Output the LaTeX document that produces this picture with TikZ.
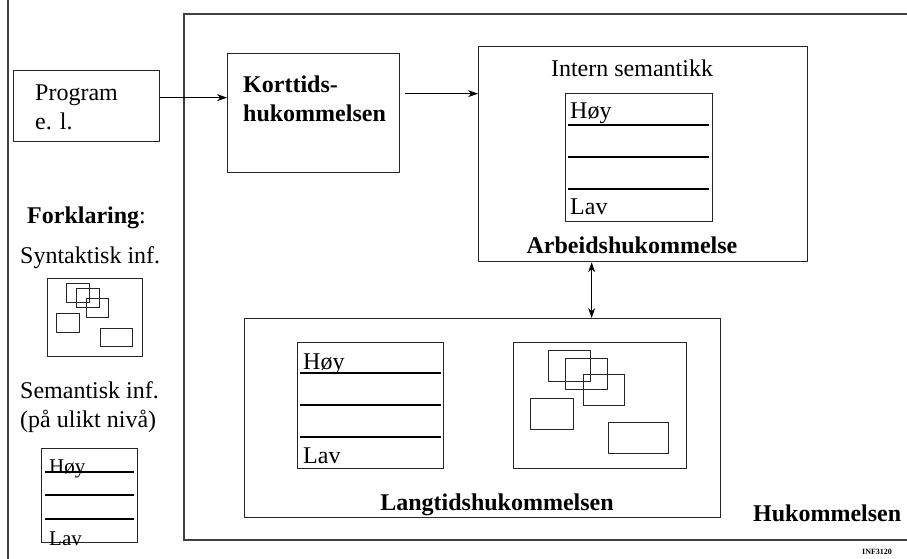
\documentclass[tikz,border=0pt]{standalone}
\usepackage{fontspec}
\setmainfont{Liberation Serif}
\usetikzlibrary{arrows.meta}

\tikzset{
	boks/.style={draw=black!85, line width=1.3pt, inner sep=0pt, anchor=north west},
	smaboks/.style={draw=black!85, line width=1pt},
	tekst/.style={anchor=base west, inner sep=0pt, font=\fontsize{24}{28}\selectfont},
	midttekst/.style={anchor=base, inner sep=0pt, font=\fontsize{24}{28}\selectfont\bfseries},
	pil/.style={line width=1pt, -{Stealth[length=10pt,width=7pt]}},
	dobbelpil/.style={line width=1pt, {Stealth[length=10pt,width=7pt]}-{Stealth[length=10pt,width=7pt]}},
	ramme/.style={draw=black!75, line width=1.8pt}
}

\begin{document}
\begin{tikzpicture}[x=1pt, y=-1pt]
	\useasboundingbox (0,0) rectangle (907,559);
	
	% ytre ramme
	\draw[ramme] (8,0) -- (8,559);
	\draw[ramme] (907,14) -- (184,14) -- (184,540) -- (907,540);
	
	% bokser
	\node[boks, minimum width=146pt, minimum height=71pt] (prog) at (13,70) {};
	\node[boks, minimum width=172pt, minimum height=119pt] (kort) at (227,53) {};
	\node[boks, minimum width=329pt, minimum height=215pt] (arbeid) at (478,46) {};
	\node[boks, minimum width=147pt, minimum height=128pt] (arbniv) at (565,93) {};
	\node[boks, minimum width=476pt, minimum height=199pt] (langtid) at (244,318) {};
	\node[boks, minimum width=146pt, minimum height=126pt] (langniv) at (297,342) {};
	\node[boks, minimum width=173pt, minimum height=126pt] (langsyn) at (513,342) {};
	\node[boks, minimum width=95pt, minimum height=78pt] (legsyn) at (47,278) {};
	\node[boks, minimum width=96pt, minimum height=94pt] (legniv) at (41,448) {};
	
	% nivaalinjer
	\foreach \y in {125,157,189}
		\draw[line width=1.2pt] (568,\y) -- (709,\y);
	\foreach \y in {373,405,437}
		\draw[line width=1.2pt] (300,\y) -- (441,\y);
	\foreach \y in {472,495,519}
		\draw[line width=1.2pt] (45,\y) -- (134,\y);
	
	% syntaktisk informasjon
	\draw[smaboks] (548,350) rectangle (590,381);
	\draw[smaboks] (565,358) rectangle (607,389);
	\draw[smaboks] (583,374) rectangle (624,405);
	\draw[smaboks] (530,398) rectangle (573,429);
	\draw[smaboks] (608,422) rectangle (668,453);
	
	\draw[smaboks] (66,283) rectangle (89,302);
	\draw[smaboks] (76,288) rectangle (99,307);
	\draw[smaboks] (86,298) rectangle (108,317);
	\draw[smaboks] (56,313) rectangle (79,332);
	\draw[smaboks] (100,328) rectangle (132,346);
	
	% piler
	\draw[pil] ([yshift=8.5pt]prog.east) -- ([yshift=15.5pt]kort.west);
	\draw[pil, shorten <=5pt] ([yshift=19.5pt]kort.east) -- ([yshift=60.5pt]arbeid.west);
	\draw[dobbelpil] ([xshift=-51.5pt]arbeid.south) -- ([xshift=109pt]langtid.north);
	
	% tekster
	\node[tekst] (prog1) at (35,101) {Program};
	\node[tekst] (prog2) at (35,130) {e. l.};
	\node[tekst, font=\fontsize{24}{28}\selectfont\bfseries] (kort1) at (243,93) {Korttids-};
	\node[tekst, font=\fontsize{24}{28}\selectfont\bfseries] (kort2) at (243,122) {hukommelsen};
	\node[midttekst, font=\fontsize{24}{28}\selectfont] (intern) at (632,77) {Intern semantikk};
	\node[tekst] (arbhoy) at (570,119) {Høy};
	\node[tekst] (arblav) at (570,214) {Lav};
	\node[midttekst] (arbnavn) at (632,253) {Arbeidshukommelse};
	\node[tekst] (langhoy) at (303,369) {Høy};
	\node[tekst] (langlav) at (303,463) {Lav};
	\node[midttekst] (langnavn) at (497,510) {Langtidshukommelsen};
	\node[tekst, font=\fontsize{24}{28}\selectfont\bfseries] (huk) at (753,521) {Hukommelsen};
	\node[tekst] (forkl) at (27,223) {\textbf{Forklaring}:};
	\node[tekst] (syntinf) at (20,263) {Syntaktisk inf.};
	\node[tekst] (seminf) at (20,398) {Semantisk inf.};
	\node[tekst] (nivaa) at (20,427) {(på ulikt nivå)};
	\node[tekst, font=\fontsize{21}{24}\selectfont] (leghoy) at (49,473) {Høy};
	\node[tekst, font=\fontsize{21}{24}\selectfont] (leglav) at (49,545) {Lav};
	\node[anchor=north west, inner sep=0pt, font=\fontsize{8}{9}\selectfont\bfseries] (kurs) at (862,549) {INF3120};
\end{tikzpicture}
\end{document}
